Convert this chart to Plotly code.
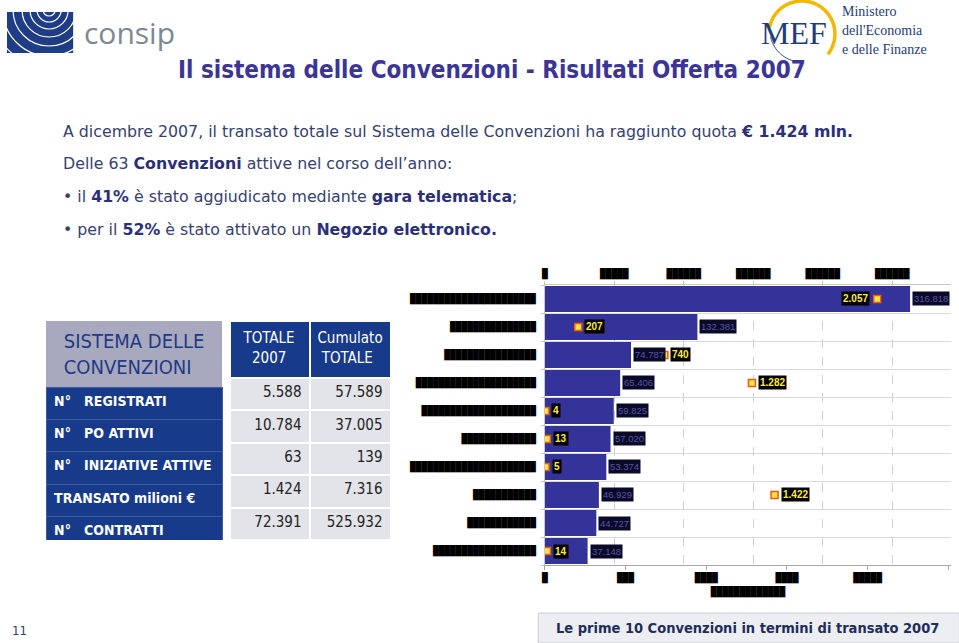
## ----------- imports ----------- ##
import numpy as np
import plotly.graph_objects as go


## ----------- page size ----------- ##
W, H = 959, 643

## ----------- chart data (names and axis labels are redacted in the source) ----------- ##
BLOCK = "\u2588"
conv_labels = [BLOCK * 22, BLOCK * 15, BLOCK * 16, BLOCK * 21, BLOCK * 20,
               BLOCK * 13, BLOCK * 22, BLOCK * 11, BLOCK * 12, BLOCK * 18]
transato = [316818, 132381, 74787, 65406, 59825, 57020, 53374, 46929, 44727, 37148]
punti = [2057, 207, 740, 1282, 4, 13, 5, 1422, None, 14]

bottom_ticks = [0, 70000, 140000, 210000, 280000, 350000]
bottom_ticktext = [BLOCK, BLOCK * 3, BLOCK * 4, BLOCK * 4, BLOCK * 5, BLOCK * 4]
top_ticks = [0, 430, 860, 1290, 1720, 2150]
top_ticktext = [BLOCK, BLOCK * 5, BLOCK * 6, BLOCK * 6, BLOCK * 6, BLOCK * 6]
bottom_title = BLOCK * 13

## ----------- table data ----------- ##
NB = "\u00a0"
tab_header = ["SISTEMA DELLE<br>CONVENZIONI", "TOTALE<br>" + NB * 2 + "2007", "Cumulato<br>" + NB + "TOTALE"]
tab_rows = ["N°" + NB * 3 + "REGISTRATI", "N°" + NB * 3 + "PO" + NB + "ATTIVI",
            "N°" + NB * 3 + "INIZIATIVE" + NB + "ATTIVE", "TRANSATO" + NB + "milioni" + NB + "€",
            "N°" + NB * 3 + "CONTRATTI"]
tab_2007 = ["5.588", "10.784", "63", "1.424", "72.391"]
tab_cumulato = ["57.589", "37.005", "139", "7.316", "525.932"]

## ----------- colours / fonts ----------- ##
NAVY = "#173A8A"
BAR = "#333399"
TXT = "#354170"
TXT_B = "#2B2F7A"
SANS = "DejaVu Sans"
COND = "DejaVu Sans Condensed"
MONO = "DejaVu Sans Mono"
LAB = "Liberation Sans"


def px(x):
    ## slide x position (as measured on the slide) -> paper fraction
    return ((x - 2) / 0.9935) / W


def py(y):
    return 1 - y / H


def it(v):
    ## italian thousands separator
    return f"{v:,}".replace(",", ".")


def arc_path(cx, cy, r, t0, t1, n=40):
    t = np.radians(np.linspace(t0, t1, n))
    xs = px(cx + r * np.cos(t))
    ys = py(cy - r * np.sin(t))
    return "M" + " L".join(f"{a:.5f},{b:.5f}" for a, b in zip(xs, ys))


def build_figure():
    ypos = list(range(len(transato)))
    fig = go.Figure()

    ## bars
    fig.add_trace(go.Bar(
        x=transato, y=ypos, orientation="h", width=0.92,
        marker=dict(color=BAR, line=dict(width=0)),
        xaxis="x", yaxis="y", hoverinfo="x",
    ))

    ## markers on the top axis
    fig.add_trace(go.Scatter(
        x=punti, y=ypos, mode="markers", xaxis="x2", yaxis="y",
        marker=dict(symbol="square", size=7, color="#FFE34D",
                    line=dict(color="#F05A00", width=1.5)),
        hoverinfo="x",
    ))

    ## table, first column
    fig.add_trace(go.Table(
        domain=dict(x=[px(44), px(220)], y=[py(540), py(321)]),
        columnwidth=[176],
        header=dict(values=[tab_header[0]], fill_color="#A8A9BF", height=57,
                    align="center", line=dict(color="#A8A9BF", width=0),
                    font=dict(family=COND, size=20, color="#1F3A84")),
        cells=dict(values=[tab_rows], fill_color=NAVY, height=32.4, align="left",
                   line=dict(color="#3E5C9E", width=1),
                   font=dict(family=COND, size=14, color="white", weight="bold")),
    ))

    ## table, numeric columns
    fig.add_trace(go.Table(
        domain=dict(x=[px(227), px(388)], y=[py(540), py(321)]),
        columnwidth=[80, 81],
        header=dict(values=tab_header[1:], fill_color=NAVY, height=57,
                    align="center", line=dict(color="white", width=2),
                    font=dict(family=COND, size=15, color="white")),
        cells=dict(values=[tab_2007, tab_cumulato], fill_color="#E2E4E9", height=32.4,
                   align="right", line=dict(color="white", width=2),
                   font=dict(family=COND, size=15, color="#222222")),
    ))

    annotations = []

    ## value labels on the bars
    for i, v in enumerate(transato):
        annotations.append(dict(
            x=v, y=i, xref="x", yref="y", text=it(v), showarrow=False,
            xanchor="left", xshift=2, bgcolor="#0A0A28", borderpad=1,
            font=dict(family=LAB, size=9.5, color="#5555AA"),
        ))

    ## labels of the markers
    for i, v in enumerate(punti):
        if v is None:
            continue
        right = v > 1800
        annotations.append(dict(
            x=v, y=i, xref="x2", yref="y", text=f"<b>{it(v)}</b>", showarrow=False,
            xanchor="right" if right else "left", xshift=-7 if right else 6,
            bgcolor="black", borderpad=1,
            font=dict(family=LAB, size=10, color="#FFEB3B"),
        ))

    def note(x, y, text, size, color, family=SANS, anchor="left", **kw):
        annotations.append(dict(
            x=px(x), y=py(y), xref="paper", yref="paper", text=text, showarrow=False,
            xanchor=anchor, yanchor="middle", font=dict(family=family, size=size, color=color), **kw,
        ))

    ## title and body text
    note(489, 70, "<b>Il sistema delle Convenzioni - Risultati Offerta 2007</b>", 24, "#3A3596",
         family=COND, anchor="center")
    b = lambda s: f"<b><span style='color:{TXT_B}'>{s}</span></b>"
    note(59, 131, "A dicembre 2007, il transato totale sul Sistema delle Convenzioni ha raggiunto quota "
         + b("€ 1.424 mln."), 15.8, TXT)
    note(59, 163, "Delle 63 " + b("Convenzioni") + " attive nel corso dell’anno:", 15.8, TXT)
    note(59, 196, "• il " + b("41%") + " è stato aggiudicato mediante " + b("gara telematica") + ";", 15.8, TXT)
    note(59, 229, "• per il " + b("52%") + " è stato attivato un " + b("Negozio elettronico."), 15.8, TXT)

    ## logos
    note(80, 33, "consip", 30, "#7D8893", family="Open Sans")
    note(790, 33, "MEF", 32, "#1F3D7A", family="Liberation Serif", anchor="center")
    note(836, 11, "Ministero", 14, "#1F3D7A", family="Liberation Serif")
    note(836, 30, "dell'Economia", 14, "#1F3D7A", family="Liberation Serif")
    note(836, 49, "e delle Finanze", 14, "#1F3D7A", family="Liberation Serif")

    ## footer
    note(8, 630, "11", 13, "#3A3A6A", family=COND)
    note(744, 628, "<b>Le prime 10 Convenzioni in termini di transato 2007</b>", 14.5, "#1F2D5C",
         family=COND, anchor="center")

    shapes = [
        dict(type="rect", xref="paper", yref="paper", x0=px(535), x1=px(955), y0=py(643), y1=py(613),
             fillcolor="#EDEEF1", line=dict(color="#C9CBD0", width=1), layer="below"),
        dict(type="rect", xref="paper", yref="paper", x0=px(5), x1=px(71), y0=py(53), y1=py(12),
             fillcolor="#1E3D86", line=dict(width=0), layer="below"),
    ]
    for r in [6, 12, 19, 27, 36, 46, 57]:
        shapes.append(dict(type="circle", xref="paper", yref="paper",
                           x0=px(47 - r), x1=px(47 + r), y0=py(10 + r), y1=py(10 - r),
                           line=dict(color="white", width=1.2), layer="below"))
    shapes.append(dict(type="path", xref="paper", yref="paper", path=arc_path(798, 34, 33, 168, -38),
                       line=dict(color="#F2B800", width=3.5), layer="below"))
    shapes.append(dict(type="path", xref="paper", yref="paper", path=arc_path(798, 30, 32, 192, 262),
                       line=dict(color="#1F3D7A", width=1), layer="below"))

    tick_font = dict(family=MONO, size=9.5, color="black")
    fig.update_layout(
        width=W, height=H, margin=dict(l=0, r=0, t=0, b=0),
        paper_bgcolor="white", plot_bgcolor="white",
        showlegend=False, bargap=0.08,
        xaxis=dict(domain=[px(541.5), px(947)], range=[0, 352500],
                   tickvals=bottom_ticks, ticktext=bottom_ticktext, tickfont=tick_font,
                   showgrid=False, zeroline=False, showline=True, linecolor="#A6A6A6",
                   ticks="outside", ticklen=4, tickcolor="#A6A6A6",
                   title=dict(text=bottom_title, font=tick_font, standoff=4)),
        xaxis2=dict(overlaying="x", side="top", range=[0, 2515],
                    tickvals=top_ticks, ticktext=top_ticktext, tickfont=tick_font,
                    showgrid=True, gridcolor="#D0D0D0", griddash="dash", zeroline=False,
                    showline=True, linecolor="#C8C8C8",
                    ticks="outside", ticklen=3, tickcolor="#C8C8C8"),
        yaxis=dict(domain=[py(565), py(285)], range=[len(transato) - 0.5, -0.5],
                   tickvals=ypos, ticktext=conv_labels, tickfont=tick_font,
                   showgrid=False, zeroline=False, showline=True, linecolor="#C8C8C8",
                   ticks="", ticklabelstandoff=6,
                   minor=dict(tickvals=[i - 0.5 for i in range(len(transato) + 1)],
                              showgrid=True, gridcolor="#DADADA", ticks="outside",
                              ticklen=3, tickcolor="#C8C8C8")),
        annotations=annotations, shapes=shapes,
    )
    return fig


def main():
    fig = build_figure()
    ## drop the default page margin and scrollbars so the figure fills the window exactly
    fig.write_html(
        "out.html",
        config={"displayModeBar": False},
        post_script="document.body.style.margin='0px';"
                    "document.body.style.overflow='hidden';"
                    "document.documentElement.style.overflow='hidden';",
    )


if __name__ == "__main__":
    main()
